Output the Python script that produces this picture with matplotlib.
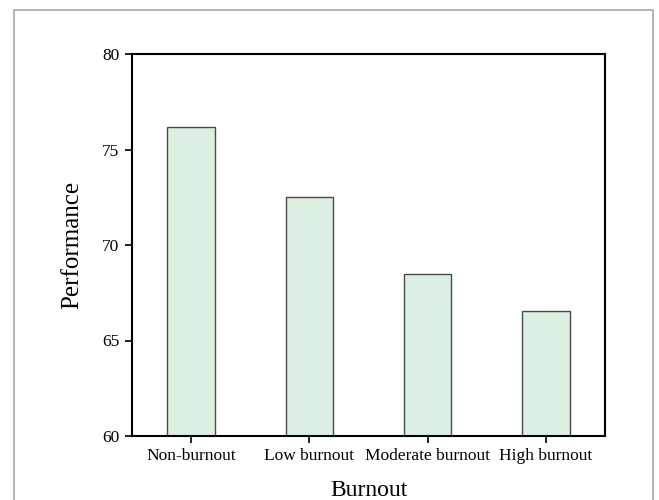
import matplotlib.pyplot as plt
from matplotlib.patches import Rectangle

categories = ['Non-burnout', 'Low burnout', 'Moderate burnout', 'High burnout']
performance = [76.2, 72.5, 68.5, 66.55]

plt.rcParams['font.family'] = ['Liberation Serif', 'DejaVu Serif']

fig = plt.figure(figsize=(6.59, 5.0), dpi=100)
ax = fig.add_axes([132 / 659, 1 - 436 / 500, (605 - 132) / 659, (436 - 54) / 500])

x = range(len(categories))
ax.bar(x, [v - 60 for v in performance], bottom=60, width=0.4,
       color='#dcefe3', edgecolor='#4a4a4a', linewidth=1.0)

ax.set_xlim(-0.5, 3.5)
ax.set_ylim(60, 80)
ax.set_yticks([60, 65, 70, 75, 80])
ax.set_xticks(list(x))
ax.set_xticklabels(categories)
ax.tick_params(axis='both', labelsize=12.5, direction='out', length=5, width=1.2, color='black')
ax.tick_params(axis='y', pad=4)
ax.tick_params(axis='x', pad=4)
for s in ax.spines.values():
    s.set_linewidth(1.5)
    s.set_color('black')

ax.set_ylabel('Performance', fontsize=18, labelpad=14)
ax.set_xlabel('Burnout', fontsize=17, labelpad=11)

# light gray frame around the figure (bottom edge falls outside the image)
fig.patches.append(Rectangle((14 / 659, -0.05), (653 - 14) / 659, 1.05 - 10 / 500,
                             transform=fig.transFigure, fill=False,
                             edgecolor='#a8a8a8', linewidth=1.2))

fig.savefig('out.png', dpi=100)
